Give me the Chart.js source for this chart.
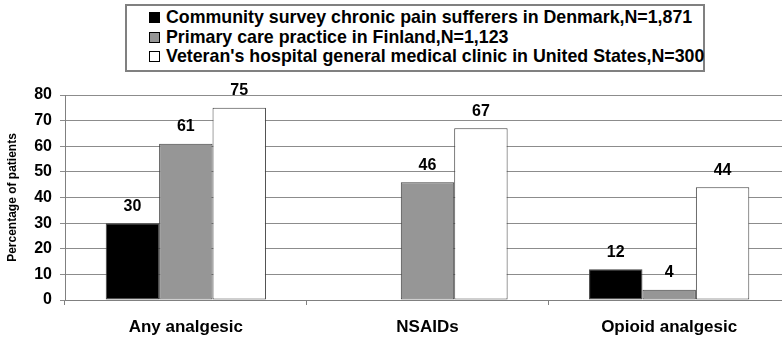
<!DOCTYPE html>
<html>
<head>
<meta charset="utf-8">
<script src="https://cdn.jsdelivr.net/npm/chart.js@4.4.1/dist/chart.umd.min.js"></script>
<style>
  html, body { margin: 0; padding: 0; background: #fff; overflow: hidden; }
  #wrap { position: relative; width: 792px; height: 339px; }
  #legend {
    position: absolute; left: 125px; top: 4px;
    width: 576px; height: 62px; padding-top: 2px; box-sizing: content-box;
    border: 2px solid #808080; background: #fff;
    font: bold 17.8px "Liberation Sans", Arial, sans-serif; color: #000;
  }
  .row { display: flex; align-items: center; height: 19.5px; line-height: 19.5px; padding-left: 22px; white-space: nowrap; }
  .mark { width: 11px; height: 11px; box-sizing: border-box; border: 1px solid #000; margin-right: 6px; flex: none; }
</style>
</head>
<body>
<div id="wrap">
  <canvas id="chart"></canvas>
  <div id="legend"></div>
</div>
<script>
// ── data ───────────────────────────────
const categories = ["Any analgesic", "NSAIDs", "Opioid analgesic"];
const seriesNames = [
  "Community survey chronic pain sufferers in Denmark,N=1,871",
  "Primary care practice in Finland,N=1,123",
  "Veteran's hospital general medical clinic in United States,N=300"
];
const denmark = [30, null, 12];
const finland = [61, 46, 4];
const usa     = [75, 67, 44];
const yMin = 0, yMax = 80, yStep = 10;
const yTitle = "Percentage of patients";

const FONT = '"Liberation Sans", Arial, sans-serif';
const fills = ["#000000", "#969696", "#ffffff"];
const seriesData = [denmark, finland, usa];

// ── legend (html) ──────────────────────
const legendEl = document.getElementById("legend");
seriesNames.forEach((name, i) => {
  const row = document.createElement("div");
  row.className = "row";
  const m = document.createElement("span");
  m.className = "mark";
  m.style.background = fills[i];
  const t = document.createElement("span");
  t.textContent = name;
  row.appendChild(m);
  row.appendChild(t);
  legendEl.appendChild(row);
});

// value labels above bars
const valueLabels = {
  id: "valueLabels",
  afterDatasetsDraw(chart) {
    const ctx = chart.ctx;
    ctx.save();
    ctx.font = "bold 16px " + FONT;
    ctx.fillStyle = "#000";
    ctx.textAlign = "center";
    ctx.textBaseline = "middle";
    chart.data.datasets.forEach((ds, i) => {
      chart.getDatasetMeta(i).data.forEach((bar, j) => {
        const v = ds.data[j];
        if (v == null) return;
        ctx.fillText(String(v), bar.x, bar.y - 17);
      });
    });
    ctx.restore();
  }
};

new Chart(document.getElementById("chart"), {
  type: "bar",
  data: {
    labels: categories,
    datasets: seriesNames.map((name, i) => ({
      label: name,
      data: seriesData[i],
      backgroundColor: fills[i],
      borderColor: "#404040",
      borderWidth: 1,
      borderSkipped: false,
      categoryPercentage: 0.663,
      barPercentage: 1
    }))
  },
  options: {
    responsive: true,
    maintainAspectRatio: false,
    animation: false,
    layout: { padding: { top: 95, right: 2, bottom: 0, left: 0 } },
    plugins: { legend: { display: false }, tooltip: { enabled: false } },
    scales: {
      x: {
        afterFit: s => { s.height = 39; },
        grid: { offset: true, drawOnChartArea: false, tickLength: 5, color: "#808080" },
        border: { color: "#808080" },
        ticks: { color: "#000", padding: 12, font: { family: FONT, size: 17, weight: "bold" } }
      },
      y: {
        min: yMin, max: yMax,
        afterFit: s => { s.width = 65; },
        grid: { color: "#8c8c8c", tickLength: 5 },
        border: { color: "#808080" },
        ticks: { stepSize: yStep, color: "#000", padding: 8, font: { family: FONT, size: 16, weight: "bold" } },
        title: {
          display: true, text: yTitle, color: "#000",
          padding: { top: 5, bottom: 0 },
          font: { family: FONT, size: 12, weight: "bold" }
        }
      }
    }
  },
  plugins: [valueLabels]
});
</script>
</body>
</html>
